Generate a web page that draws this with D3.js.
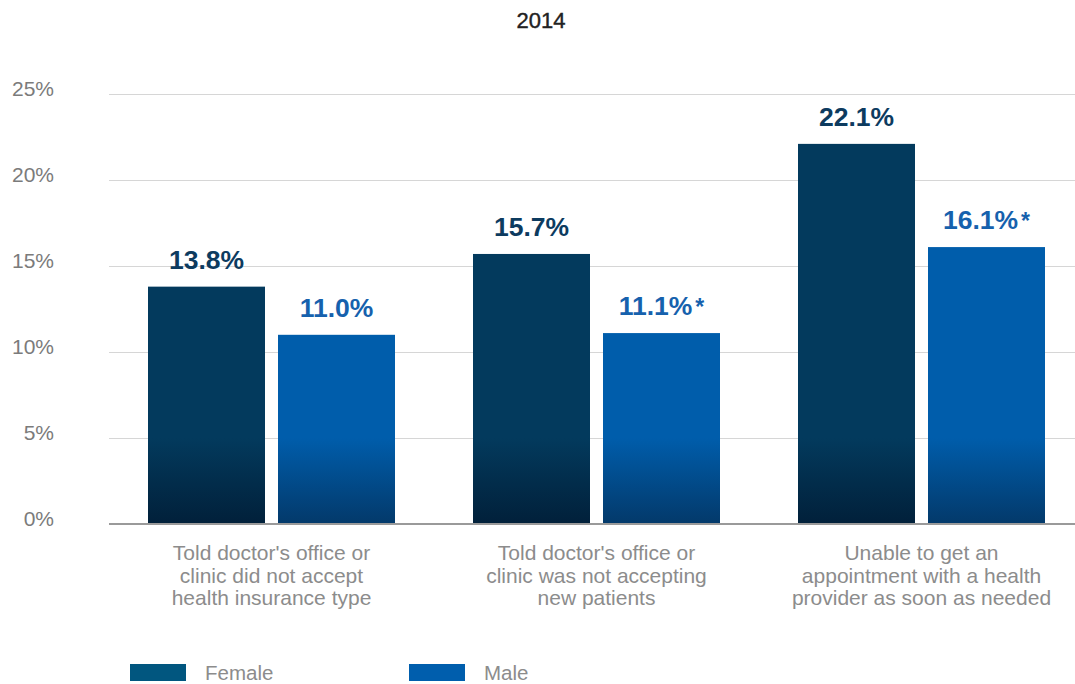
<!DOCTYPE html>
<html>
<head>
<meta charset="utf-8">
<script src="https://cdn.jsdelivr.net/npm/d3@7"></script>
<style>
  html, body { margin: 0; padding: 0; background: #fff; }
  svg { display: block; font-family: "Liberation Sans", Arial, Helvetica, sans-serif; }
</style>
</head>
<body>
<svg id="chart" width="1075" height="684"></svg>
<script>
const title = "2014";
const categories = [
  ["Told doctor's office or", "clinic did not accept", "health insurance type"],
  ["Told doctor's office or", "clinic was not accepting", "new patients"],
  ["Unable to get an", "appointment with a health", "provider as soon as needed"]
];
const seriesNames = ["Female", "Male"];
const femaleValues = [13.8, 15.7, 22.1];
const maleValues = [11.0, 11.1, 16.1];
const maleSignificant = [false, true, true];
const yTicks = [0, 5, 10, 15, 20, 25];

const svg = d3.select("#chart");
const W = 1075;

const y = d3.scaleLinear().domain([0, 25]).range([524, 94]);
const x0 = d3.scaleBand().domain(d3.range(categories.length)).range([109, 1084])
  .paddingInner(0.24).paddingOuter(0.12);
const x1 = d3.scaleBand().domain(seriesNames).range([0, x0.bandwidth()]).paddingInner(0.1).paddingOuter(0);

const barColors = {
  Female: { top: "#033a5d", bottom: "#01203a" },
  Male: { top: "#005dab", bottom: "#03396a" }
};
const labelColors = { Female: "#0d3b5f", Male: "#1661ad" };
const legendColors = { Female: "#01567f", Male: "#005ead" };

const defs = svg.append("defs");
seriesNames.forEach(s => {
  const g = defs.append("linearGradient").attr("id", "grad-" + s)
    .attr("gradientUnits", "userSpaceOnUse")
    .attr("x1", 0).attr("x2", 0).attr("y1", 94).attr("y2", 524);
  g.append("stop").attr("offset", "0").attr("stop-color", barColors[s].top);
  g.append("stop").attr("offset", "0.8").attr("stop-color", barColors[s].top);
  g.append("stop").attr("offset", "1").attr("stop-color", barColors[s].bottom);
});

// Title
svg.append("text").attr("x", 541).attr("y", 28).attr("text-anchor", "middle")
  .attr("font-size", 22).attr("fill", "#222").attr("stroke", "#222").attr("stroke-width", 0.4)
  .text(title);

// Gridlines
svg.append("g").selectAll("line").data(yTicks.filter(d => d > 0)).join("line")
  .attr("x1", 109).attr("x2", W).attr("y1", d => y(d)).attr("y2", d => y(d))
  .attr("stroke", "#d6d6d6").attr("stroke-width", 1).attr("shape-rendering", "crispEdges");

// Y tick labels
svg.append("g").selectAll("text").data(yTicks).join("text")
  .attr("x", 54).attr("y", d => y(d) + 2).attr("text-anchor", "end")
  .attr("font-size", 21).attr("fill", "#7b7b7b").text(d => d + "%");

// Bars
const data = categories.map((c, i) => ({
  i,
  values: [
    { s: "Female", v: femaleValues[i], sig: false },
    { s: "Male", v: maleValues[i], sig: maleSignificant[i] }
  ]
}));

const groups = svg.append("g").selectAll("g").data(data).join("g")
  .attr("transform", d => `translate(${x0(d.i)},0)`);

groups.selectAll("rect").data(d => d.values).join("rect")
  .attr("x", d => x1(d.s)).attr("width", x1.bandwidth())
  .attr("y", d => y(d.v)).attr("height", d => y(0) - y(d.v))
  .attr("fill", d => `url(#grad-${d.s})`);

const vl = groups.selectAll("text.val").data(d => d.values).join("text")
  .attr("class", "val")
  .attr("x", d => x1(d.s) + x1.bandwidth() / 2)
  .attr("y", d => y(d.v) - 18)
  .attr("text-anchor", "middle")
  .attr("font-size", 26.5).attr("font-weight", "bold")
  .attr("fill", d => labelColors[d.s]);
vl.append("tspan").text(d => d.v.toFixed(1) + "%");
vl.filter(d => d.sig).append("tspan").attr("dx", 3).attr("font-size", 23).text("*");

// Baseline
svg.append("line").attr("x1", 109).attr("x2", W).attr("y1", y(0)).attr("y2", y(0))
  .attr("stroke", "#9a9a9a").attr("stroke-width", 2);

// Category labels
const cl = svg.append("g").selectAll("text").data(categories).join("text")
  .attr("text-anchor", "middle").attr("font-size", 21).attr("fill", "#8c8c8c")
  .attr("transform", (d, i) => `translate(${x0(i) + x0.bandwidth() / 2},0)`);
cl.selectAll("tspan").data(d => d).join("tspan")
  .attr("x", 0).attr("y", (d, j) => 560 + j * 22.5).text(d => d);

// Legend
const legendX = [130, 409];
const lg = svg.append("g").selectAll("g").data(seriesNames).join("g")
  .attr("transform", (d, i) => `translate(${legendX[i]},664)`);
lg.append("rect").attr("width", 56).attr("height", 17).attr("fill", d => legendColors[d]);
lg.append("text").attr("x", 75).attr("y", 16).attr("font-size", 20.5).attr("fill", "#8c8c8c").text(d => d);
</script>
</body>
</html>
